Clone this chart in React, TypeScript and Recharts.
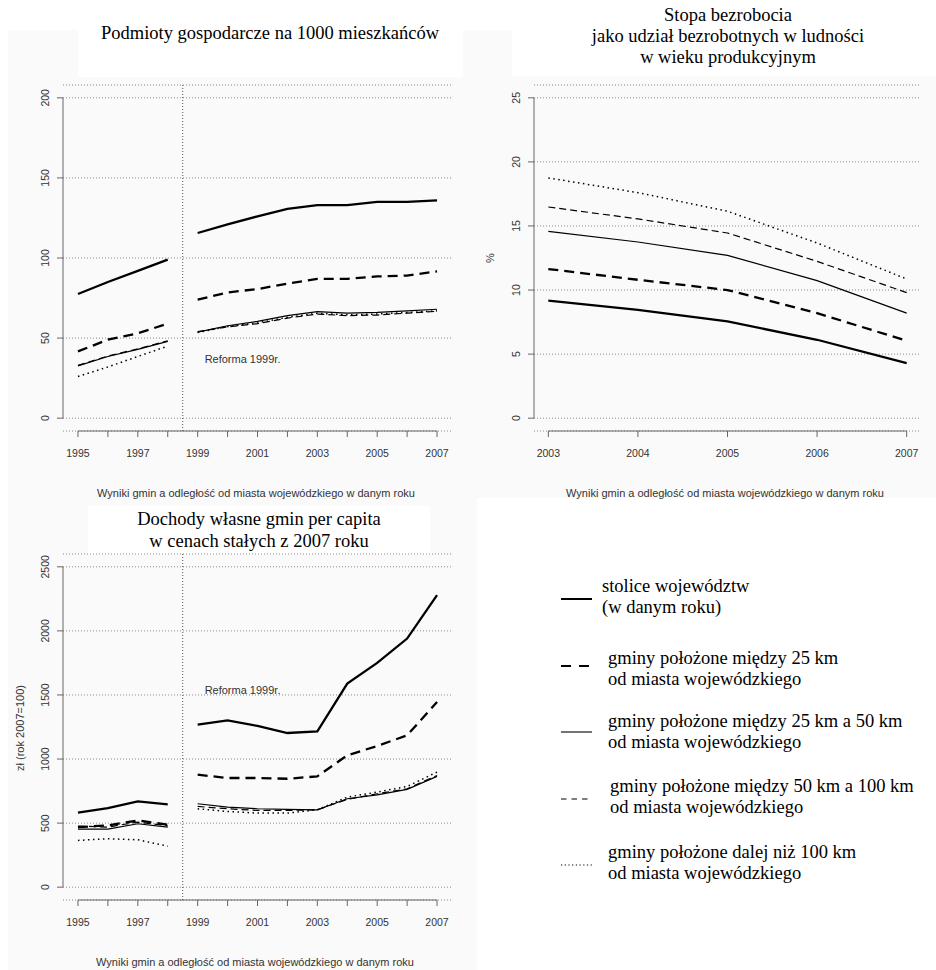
import React from 'react';
import { LineChart, Line, XAxis, YAxis, CartesianGrid, ReferenceLine, ReferenceDot } from 'recharts';

const FONT_SANS = '"Liberation Sans", Arial, sans-serif';
const FONT_SERIF = '"Liberation Serif", "Times New Roman", serif';

// lata
const lataDlugie = [1995, 1996, 1997, 1998, 1999, 2000, 2001, 2002, 2003, 2004, 2005, 2006, 2007];
const lataBezrobocie = [2003, 2004, 2005, 2006, 2007];

// Podmioty gospodarcze na 1000 mieszkańców
const podmiotyStolice = [77.5, 85, 92, 99, 115.6, 121, 126, 130.6, 133, 133, 135, 135, 136];
const podmioty25 = [41.7, 49, 53, 59, 74, 78.5, 80.6, 84, 87, 87, 88.5, 89, 91.7];
const podmioty25_50 = [32.7, 38.5, 43, 48, 53.7, 57.7, 60.4, 64, 66.5, 65.6, 66, 67, 68];
const podmioty50_100 = [33, 38.8, 43.3, 48.3, 54, 57, 59, 62.5, 65, 64, 64.4, 65.6, 66.7];
const podmiotyPonad100 = [26, 32, 38.5, 45, 53.5, 57.2, 59.5, 63, 65.5, 64.5, 65, 66, 67];

// Stopa bezrobocia (%)
const bezrobocieStolice = [9.17, 8.46, 7.55, 6.12, 4.3];
const bezrobocie25 = [11.64, 10.8, 10.0, 8.2, 6.04];
const bezrobocie25_50 = [14.58, 13.75, 12.7, 10.73, 8.2];
const bezrobocie50_100 = [16.48, 15.55, 14.45, 12.24, 9.8];
const bezrobociePonad100 = [18.75, 17.6, 16.15, 13.67, 10.86];

// Dochody własne gmin per capita (zł)
const dochodyStolice = [581, 617, 669, 646, 1268, 1302, 1258, 1203, 1216, 1589, 1750, 1940, 2279];
const dochody25 = [469, 482, 521, 487, 878, 852, 852, 846, 865, 1029, 1102, 1185, 1445];
const dochody25_50 = [453, 453, 495, 469, 651, 625, 612, 607, 604, 690, 721, 763, 865];
const dochody50_100 = [477, 469, 508, 479, 630, 612, 599, 599, 604, 685, 729, 768, 872];
const dochodyPonad100 = [365, 378, 370, 320, 612, 591, 578, 578, 604, 703, 742, 786, 898];

const legendLabels = [
  ['stolice województw', '(w danym roku)'],
  ['gminy położone między 25 km', 'od miasta wojewódzkiego'],
  ['gminy położone między 25 km a 50 km', 'od miasta wojewódzkiego'],
  ['gminy położone między 50 km a 100 km', 'od miasta wojewódzkiego'],
  ['gminy położone dalej niż 100 km', 'od miasta wojewódzkiego'],
];

const LINE_STYLES = [
  { width: 2.3, dash: undefined },
  { width: 2.3, dash: '10 6' },
  { width: 1.2, dash: undefined },
  { width: 1.2, dash: '7 4' },
  { width: 1.5, dash: '1.5 3.5' },
];

const buildRows = (years: number[], series: number[][], gapAt?: number) => {
  const rows: any[] = [];
  years.forEach((yr, i) => {
    if (gapAt !== undefined && yr > gapAt && years[i - 1] < gapAt) {
      rows.push({ year: gapAt, s0: null, s1: null, s2: null, s3: null, s4: null });
    }
    const row: any = { year: yr };
    series.forEach((s, k) => (row['s' + k] = s[i]));
    rows.push(row);
  });
  return rows;
};

const podmiotyRows = buildRows(lataDlugie, [podmiotyStolice, podmioty25, podmioty25_50, podmioty50_100, podmiotyPonad100], 1998.5);
const bezrobocieRows = buildRows(lataBezrobocie, [bezrobocieStolice, bezrobocie25, bezrobocie25_50, bezrobocie50_100, bezrobociePonad100]);
const dochodyRows = buildRows(lataDlugie, [dochodyStolice, dochody25, dochody25_50, dochody50_100, dochodyPonad100], 1998.5);

const XTick = (props: any) => {
  const { x, y, payload, everyOther } = props;
  const v = payload.value;
  if (everyOther && (v - 1995) % 2 !== 0) return <g />;
  return (
    <text x={x} y={y} dy={18} textAnchor="middle" fontSize={10.5} fill="#333" fontFamily={FONT_SANS}>
      {v}
    </text>
  );
};

const YTick = (props: any) => {
  const { x, y, payload } = props;
  const cx = x - 6;
  return (
    <text x={cx} y={y} transform={`rotate(-90 ${cx} ${y})`} textAnchor="middle" fontSize={10.5} fill="#333" fontFamily={FONT_SANS}>
      {payload.value}
    </text>
  );
};

const Panel = ({ data, width, height, margin, xDomain, xTicks, yDomain, yTicks, everyOther, reform }: any) => (
  <LineChart width={width} height={height} data={data} margin={margin}>
    <CartesianGrid vertical={false} stroke="#888" strokeDasharray="1 2" />
    <XAxis
      type="number"
      dataKey="year"
      domain={xDomain}
      ticks={xTicks}
      interval={0}
      allowDataOverflow
      axisLine={false}
      tickLine={{ stroke: '#666' }}
      tickSize={6}
      height={30}
      tick={<XTick everyOther={everyOther} />}
    />
    <YAxis
      type="number"
      domain={yDomain}
      ticks={yTicks}
      interval={0}
      allowDataOverflow
      axisLine={false}
      tickLine={{ stroke: '#666' }}
      tickSize={6}
      width={40}
      tick={<YTick />}
    />
    <ReferenceLine
      segment={[{ x: xTicks[0], y: yDomain[0] }, { x: xTicks[xTicks.length - 1], y: yDomain[0] }]}
      stroke="#666"
      ifOverflow="visible"
    />
    <ReferenceLine
      segment={[{ x: xDomain[0], y: yTicks[0] }, { x: xDomain[0], y: yTicks[yTicks.length - 1] }]}
      stroke="#666"
      ifOverflow="visible"
    />
    {reform && <ReferenceLine x={1998.5} stroke="#555" strokeDasharray="1 2" />}
    {reform && (
      <ReferenceDot
        x={reform.x}
        y={reform.y}
        r={1}
        fill="none"
        stroke="none"
        label={{ value: 'Reforma 1999r.', position: 'right', offset: 0, fontSize: 11, fill: '#333', fontFamily: FONT_SANS }}
      />
    )}
    {LINE_STYLES.map((st, k) => (
      <Line
        key={k}
        type="linear"
        dataKey={'s' + k}
        stroke="#000"
        strokeWidth={st.width}
        strokeDasharray={st.dash}
        dot={false}
        activeDot={false}
        isAnimationActive={false}
      />
    ))}
  </LineChart>
);

const caption = 'Wyniki gmin a odległość od miasta wojewódzkiego w danym roku';

const Background = () => (
  <svg width={936} height={970} style={{ position: 'absolute', left: 0, top: 0 }}>
    <rect x={8} y={30} width={469} height={940} fill="#fafafa" />
    <rect x={463} y={30} width={473} height={468} fill="#fafafa" />
    <rect x={78} y={0} width={385} height={77} fill="#fff" />
    <rect x={512} y={0} width={424} height={76} fill="#fff" />
    <rect x={88} y={506} width={342} height={49} fill="#fff" />

    <g fontFamily={FONT_SERIF} fontSize={18.5} fill="#000" textAnchor="middle">
      <text x={270} y={39}>Podmioty gospodarcze na 1000 mieszkańców</text>
      <text x={728} y={21}>Stopa bezrobocia</text>
      <text x={728} y={42}>jako udział bezrobotnych w ludności</text>
      <text x={728} y={63}>w wieku produkcyjnym</text>
      <text x={259} y={525}>Dochody własne gmin per capita</text>
      <text x={259} y={547}>w cenach stałych z 2007 roku</text>
    </g>

    <g fontFamily={FONT_SANS} fontSize={11} fill="#333" textAnchor="middle">
      <text x={256} y={497}>{caption}</text>
      <text x={725} y={497}>{caption}</text>
      <text x={255} y={966}>{caption}</text>
      <text x={494} y={258} transform="rotate(-90 494 258)">%</text>
      <text x={24} y={728} transform="rotate(-90 24 728)">zł (rok 2007=100)</text>
    </g>

    <g fontFamily={FONT_SERIF} fontSize={18.5} fill="#000">
      {legendLabels.map((lines, k) => {
        const lineY = [599, 666, 732, 799, 865][k];
        const textX = [602, 608, 608, 610, 608][k];
        const baseY = [592, 664, 727, 792, 858][k];
        const x2 = [592, 589, 592, 588, 592][k];
        const dash = ['', '10 8', '', '5.5 5', '1.2 2.5'][k];
        const w = [2, 2, 1.1, 1, 1.2][k];
        return (
          <g key={k}>
            <line x1={561} x2={x2} y1={lineY} y2={lineY} stroke="#000" strokeWidth={w} strokeDasharray={dash || undefined} />
            <text x={textX} y={baseY}>{lines[0]}</text>
            <text x={textX} y={baseY + 21}>{lines[1]}</text>
          </g>
        );
      })}
    </g>
  </svg>
);

export default function App() {
  return (
    <div style={{ position: 'absolute', left: 0, top: 0, width: 936, height: 970, background: '#fff' }}>
      <Background />
      <div style={{ position: 'absolute', left: 0, top: 0 }}>
        <Panel
          data={podmiotyRows}
          width={468}
          height={480}
          margin={{ top: 85, right: 16, left: 23, bottom: 19 }}
          xDomain={[1994.5, 2007.5]}
          xTicks={lataDlugie}
          yDomain={[-8, 208]}
          yTicks={[0, 50, 100, 150, 200]}
          everyOther
          reform={{ x: 1999.2, y: 37 }}
        />
      </div>
      <div style={{ position: 'absolute', left: 468, top: 0 }}>
        <Panel
          data={bezrobocieRows}
          width={468}
          height={480}
          margin={{ top: 85, right: 15, left: 26, bottom: 19 }}
          xDomain={[2002.84, 2007.16]}
          xTicks={lataBezrobocie}
          yDomain={[-1, 26]}
          yTicks={[0, 5, 10, 15, 20, 25]}
        />
      </div>
      <div style={{ position: 'absolute', left: 0, top: 480 }}>
        <Panel
          data={dochodyRows}
          width={478}
          height={490}
          margin={{ top: 74, right: 26, left: 23, bottom: 40 }}
          xDomain={[1994.5, 2007.5]}
          xTicks={lataDlugie}
          yDomain={[-100, 2600]}
          yTicks={[0, 500, 1000, 1500, 2000, 2500]}
          everyOther
          reform={{ x: 1999.2, y: 1539 }}
        />
      </div>
    </div>
  );
}
